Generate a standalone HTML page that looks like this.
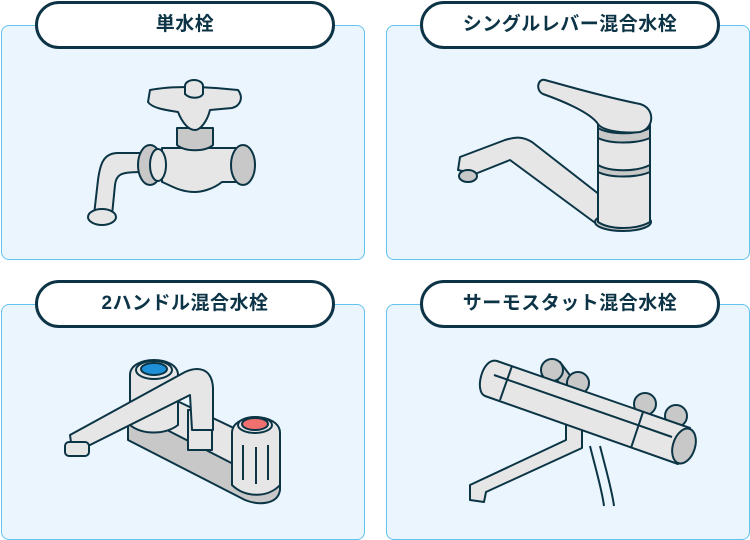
<!DOCTYPE html>
<html><head><meta charset="utf-8"><style>
html,body{margin:0;padding:0;background:#fff;}
body{width:750px;height:540px;position:relative;overflow:hidden;font-family:"Liberation Sans","Noto Sans CJK JP",sans-serif;}
.p{position:absolute;background:#eaf5fe;border:1.5px solid #62c3ee;border-radius:8px;box-sizing:border-box;}
.t{position:absolute;background:#fff;border:3px solid #0d3446;border-radius:25px;box-sizing:border-box;text-align:center;font-weight:bold;font-size:19px;color:#0d3446;line-height:41px;letter-spacing:0.5px;}
svg{position:absolute;left:0;top:0;}
</style></head><body>
<div class="p" style="left:1px;top:25px;width:364px;height:235px"></div>
<div class="p" style="left:386px;top:25px;width:364px;height:235px"></div>
<div class="p" style="left:1px;top:304px;width:364px;height:236px"></div>
<div class="p" style="left:386px;top:304px;width:364px;height:236px"></div>
<div class="t" style="left:35px;top:1px;width:300px;height:48px">単水栓</div>
<div class="t" style="left:420px;top:1px;width:300px;height:48px">シングルレバー混合水栓</div>
<div class="t" style="left:35px;top:280px;width:300px;height:48px">2ハンドル混合水栓</div>
<div class="t" style="left:420px;top:280px;width:300px;height:48px">サーモスタット混合水栓</div>
<svg width="750" height="540" viewBox="0 0 750 540" fill="#e6e6e6" stroke="#0b3445" stroke-width="2" stroke-linejoin="round">
<!-- faucet 1 -->
<path d="M140 153 L118 153 C103 153 100 165 98 180 L94 215 L112 215 L115 185 C116 175 120 172 140 172 Z"/>
<ellipse cx="102" cy="217" rx="14" ry="8"/>
<path d="M162 148 L240 148 L240 182 L222 182 C212 190 200 192 195 192 C180 192 172 186 162 182 Z"/>
<ellipse cx="150" cy="165" rx="12" ry="20" fill="#c8c8c8"/>
<ellipse cx="158" cy="165" rx="8" ry="16"/>
<ellipse cx="243" cy="165" rx="12" ry="20" fill="#c8c8c8"/>
<path d="M177 128 L177 145 C185 152 205 152 213 145 L213 128 Z" fill="#c8c8c8"/>
<path d="M150 90 C170 86 200 86 238 90 C244 98 240 106 232 108 L210 110 C207 122 200 130 195 130 C188 130 182 122 178 112 C165 110 152 108 148 102 Z"/>
<ellipse cx="194" cy="86" rx="9" ry="6"/>
<path d="M185 86 L185 94 C190 99 200 99 203 94 L203 86"/>
<!-- faucet 2 -->
<path d="M600 195 L532 142 C522 136 515 137 505 140 L460 157 L458 170 L475 174 L510 160 L598 225 Z"/>
<ellipse cx="468" cy="176" rx="9" ry="6" fill="#c8c8c8"/>
<ellipse cx="623" cy="222" rx="28" ry="9" fill="#c8c8c8"/>
<path d="M598 120 L598 222 C610 230 636 230 650 222 L650 120 Z"/>
<path d="M598 128 C610 135 636 135 650 128 L650 138 C636 144 610 144 598 138 Z" fill="#c8c8c8"/>
<path d="M598 165 C610 172 636 172 650 165 L650 172 C636 178 610 178 598 172 Z" fill="#c8c8c8"/>
<path d="M545 80 C560 84 600 96 640 104 C655 108 655 128 640 132 C620 134 602 130 598 124 C590 112 560 100 543 94 C535 90 538 78 545 80 Z"/>
<!-- faucet 3 -->
<path d="M128 415 L128 440 L245 500 C260 506 278 504 280 490 L280 460 L185 420 Z" fill="#c8c8c8"/>
<path d="M128 410 L245 470 L280 470 L280 450 L175 400 Z" fill="#e6e6e6"/>
<path d="M130 375 C130 355 178 355 178 375 L178 425 C165 435 142 435 130 425 Z"/>
<ellipse cx="154" cy="370" rx="18" ry="9"/>
<ellipse cx="154" cy="369" rx="13" ry="6" fill="#1e90d8"/>
<path d="M188 410 L188 450 L212 450 L212 410 Z"/>
<path d="M70 435 L185 372 C198 366 212 368 213 388 L213 430 L192 430 L190 395 L80 450 L72 450 Z"/>
<rect x="65" y="442" width="24" height="14" rx="4"/>
<path d="M232 433 C232 412 280 412 280 433 L280 485 C268 498 245 498 232 485 Z"/>
<ellipse cx="255" cy="425" rx="17" ry="8"/>
<ellipse cx="255" cy="424" rx="13" ry="6" fill="#f07070"/>
<path d="M243 445 L243 480 M256 447 L256 484 M268 445 L268 480" fill="none"/>
<!-- faucet 4 -->
<path d="M590 446 C596 470 602 490 604 506 M600 446 C606 470 612 490 614 506" fill="none"/>
<path d="M566 425 L582 425 L582 448 L486 492 L484 502 L470 500 L470 485 L566 440 Z"/>
<path d="M545 366 L560 362 L575 382 L562 386 Z" fill="#c8c8c8"/>
<circle cx="552" cy="370" r="11" fill="#c8c8c8"/>
<circle cx="578" cy="383" r="11" fill="#c8c8c8"/>
<circle cx="645" cy="404" r="11" fill="#c8c8c8"/>
<circle cx="676" cy="416" r="11" fill="#c8c8c8"/>
<path d="M497 361 L690 428 L678 464 L485 396 C474 392 482 357 497 361 Z"/>
<line x1="512" y1="366" x2="500" y2="400"/>
<line x1="643" y1="412" x2="631" y2="448"/>
<line x1="494" y1="375" x2="672" y2="437"/>
<ellipse cx="684" cy="446" rx="11" ry="18" fill="#c8c8c8" transform="rotate(18 684 446)"/>
</svg>
</body></html>
